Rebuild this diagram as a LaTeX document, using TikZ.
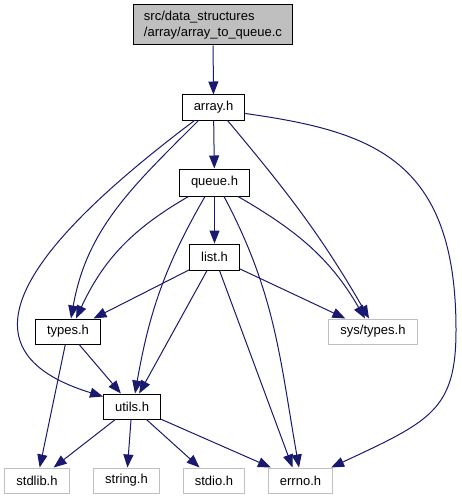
\documentclass[tikz,border=0pt]{standalone}
\usepackage{fontspec}
\setmainfont{Liberation Sans}
\usepackage{tikz}
\usetikzlibrary{arrows.meta}
\definecolor{EdgeBlue}{HTML}{191970}
\definecolor{LeafGray}{HTML}{BFBFBF}
\definecolor{RootFill}{HTML}{BFBFBF}

\begin{document}
\begin{tikzpicture}[
  x=1pt,y=1pt,
  every node/.style={
    draw,line width=1pt,
    inner xsep=11.5pt,inner ysep=0pt,
    minimum height=25pt,
    font=\fontsize{13}{15.5}\selectfont,
    text=black
  },
  root/.style={fill=RootFill,align=left,minimum height=40pt,inner xsep=10.5pt},
  leaf/.style={draw=LeafGray},
  arr/.style={-{Triangle[length=13pt,width=10pt]},line width=1pt,EdgeBlue}
]
  \useasboundingbox (0,0) rectangle (461,-500);

  \node[root] (src) at (213,-25) {src/data\_structures\\/array/array\_to\_queue.c};
  \node (array) at (213.5,-107.5) {array.h};
  \node[minimum height=27pt] (queue) at (214.5,-182.5) {queue.h};
  \node[minimum height=26pt] (list) at (214.5,-257) {list.h};
  \node (types) at (68,-331.5) {types.h};
  \node[leaf] (systypes) at (373,-331.5) {sys/types.h};
  \node (utils) at (132,-406.5) {utils.h};
  \node[leaf] (stdlib) at (37,-480.5) {stdlib.h};
  \node[leaf] (string) at (126.5,-480.5) {string.h};
  \node[leaf] (stdio) at (214,-480.5) {stdio.h};
  \node[leaf] (errno) at (300.5,-480.5) {errno.h};
  \coordinate (errbend) at (456,-330);

  \draw[arr] (src) -- (array);
  \draw[arr] (array) -- (queue);
  \draw[arr] ([xshift=-15pt]array.south) to[out=-135,in=80] ([xshift=3pt]types.north);
  \draw[arr] ([xshift=-19pt]array.south) to[out=-143,in=163,out distance=210,in distance=160] ([yshift=-3pt]utils.north west);
  \draw[arr] ([xshift=14pt]array.south) to[out=-50,in=120] ([xshift=-4pt]systypes.north);
  \draw[arr] ([yshift=-6pt]array.east) to[out=-8,in=90,out distance=130,in distance=170] (errbend)
    to[out=-90,in=25,out distance=80,in distance=110] ([xshift=-2pt]errno.north east);

  \draw[arr] (queue) -- (list);
  \draw[arr] ([xshift=-26pt]queue.south) to[out=-150,in=65] ([xshift=8pt]types.north);
  \draw[arr] ([xshift=-9.5pt]queue.south) to[out=-120,in=80] ([xshift=3pt]utils.north);
  \draw[arr] ([xshift=9.5pt]queue.south) to[out=-62,in=100] ([xshift=-1.5pt]errno.north);
  \draw[arr] ([xshift=23.5pt]queue.south) to[out=-30,in=120] ([xshift=-8pt]systypes.north);

  \draw[arr] (list) -- (types);
  \draw[arr] (list) -- (systypes);
  \draw[arr] (list) -- (utils);
  \draw[arr] (list) -- ([xshift=-8pt]errno.north);

  \draw[arr] (types) -- (stdlib);
  \draw[arr] (types) -- (utils);

  \draw[arr] (utils) -- (stdlib);
  \draw[arr] (utils) -- (string);
  \draw[arr] (utils) -- (stdio);
  \draw[arr] (utils) -- (errno);
\end{tikzpicture}
\end{document}
